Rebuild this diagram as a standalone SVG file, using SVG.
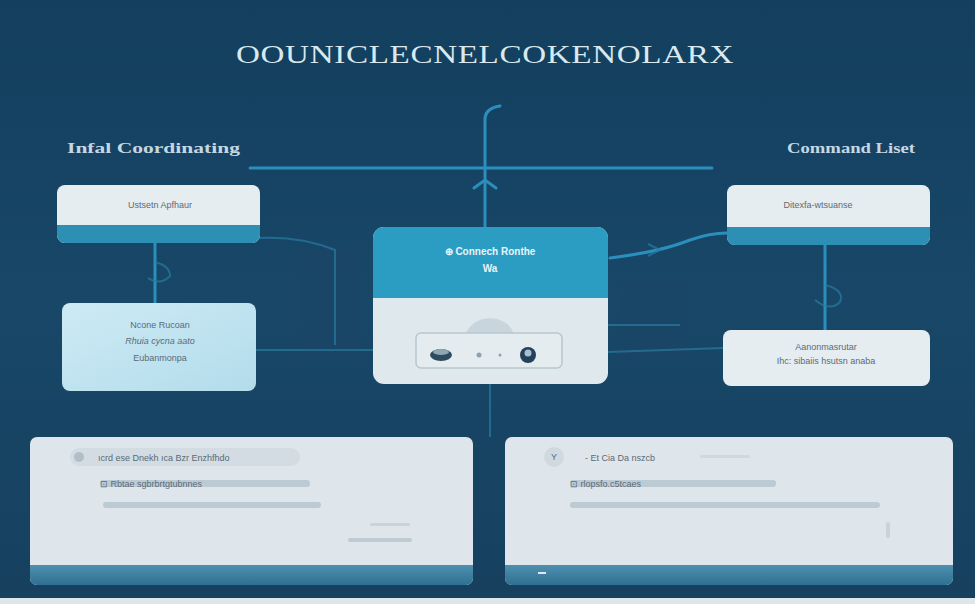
<svg xmlns="http://www.w3.org/2000/svg" width="975" height="604" viewBox="0 0 975 604">
<defs>
<linearGradient id="bg" x1="0" y1="0" x2="0" y2="1">
<stop offset="0" stop-color="#143f5f"/>
<stop offset="0.5" stop-color="#184767"/>
<stop offset="1" stop-color="#17405f"/>
</linearGradient>
<linearGradient id="band" x1="0" y1="0" x2="0" y2="1">
<stop offset="0" stop-color="#4f8fae"/>
<stop offset="1" stop-color="#2f7092"/>
</linearGradient>
<linearGradient id="lblue" x1="0" y1="0" x2="1" y2="1">
<stop offset="0" stop-color="#cdeaf5"/>
<stop offset="1" stop-color="#b3dceb"/>
</linearGradient>
<clipPath id="cl1"><rect x="57" y="185" width="203" height="58" rx="8"/></clipPath>
<clipPath id="cr1"><rect x="727" y="185" width="203" height="60" rx="8"/></clipPath>
<clipPath id="cc"><rect x="373" y="227" width="235" height="157" rx="11"/></clipPath>
<clipPath id="cbl"><rect x="30" y="437" width="443" height="148" rx="7"/></clipPath>
<clipPath id="cbr"><rect x="505" y="437" width="448" height="148" rx="7"/></clipPath>
</defs>
<style>
.ttl{font-family:"Liberation Serif",serif;font-size:25px;fill:#d9e9ef;letter-spacing:0.5px}
.hdr{font-family:"Liberation Serif",serif;font-size:14px;font-weight:bold;fill:#c4d8e3}
.sm{font-family:"Liberation Sans",sans-serif;font-size:9px;fill:#5a6b78}
.smw{font-family:"Liberation Sans",sans-serif;font-size:10px;font-weight:bold;fill:#e8f4f8}
.ln{fill:none;stroke:#2b8fbd;stroke-width:3;stroke-linecap:round}
.lnf{fill:none;stroke:#2a7aa3;stroke-width:2;opacity:0.7}
.bar{fill:#bccad4}
</style>
<rect width="975" height="604" fill="url(#bg)"/>
<rect x="0" y="598" width="975" height="6" fill="#dfe6ea"/>
<rect x="300" y="250" width="60" height="110" fill="#1a4566" opacity="0.6"/>
<rect x="618" y="280" width="70" height="80" fill="#1a4566" opacity="0.6"/>
<text class="ttl" x="485" y="63" text-anchor="middle" textLength="498" lengthAdjust="spacingAndGlyphs">OOUNICLECNELCOKENOLARX</text>
<text class="hdr" x="67" y="153" textLength="173" lengthAdjust="spacingAndGlyphs">Infal Coordinating</text>
<text class="hdr" x="787" y="153" textLength="128" lengthAdjust="spacingAndGlyphs">Command Liset</text>

<g id="connectors">
<path class="ln" d="M250 168 H712"/>
<path class="ln" d="M485 228 V118 Q486 108 500 106"/>
<path class="ln" d="M474 188 L485 180 L496 188"/>
<path class="ln" d="M155 243 V303"/>
<path class="lnf" d="M155 262 Q170 266 170 276 Q160 286 148 278"/>
<path class="ln" d="M825 245 V330"/>
<path class="lnf" d="M825 285 Q845 290 840 302 Q830 312 815 300"/>
<path class="lnf" d="M260 238 Q300 236 335 250 V345"/>
<path class="lnf" d="M256 350 H373"/>
<path class="ln" d="M610 258 Q660 252 690 240 Q710 233 727 233" stroke-width="2.5"/>
<path class="lnf" d="M648 244 L660 250 L648 256"/>
<path class="lnf" d="M608 325 H680"/>
<path class="lnf" d="M608 352 Q660 350 723 348"/>
<path class="lnf" d="M490 384 V437" opacity="0.4"/>
</g>

<g id="node-top-left" clip-path="url(#cl1)">
<rect x="57" y="185" width="203" height="58" fill="#e6edf1"/>
<rect x="57" y="225" width="203" height="18" fill="#2e8fb4"/>
<text class="sm" x="160" y="208" text-anchor="middle">Ustsetn Apfhaur</text>
</g>

<g id="node-top-right" clip-path="url(#cr1)">
<rect x="727" y="185" width="203" height="60" fill="#e6edf1"/>
<rect x="727" y="227" width="203" height="18" fill="#2e8fb4"/>
<text class="sm" x="818" y="208" text-anchor="middle">Ditexfa-wtsuanse</text>
</g>

<g id="node-center" clip-path="url(#cc)">
<rect x="373" y="227" width="235" height="157" fill="#dfe8ed"/>
<rect x="373" y="227" width="235" height="71" fill="#2b9dc3"/>
<text class="smw" x="490" y="255" text-anchor="middle">⊕ Connech Ronthe</text>
<text class="smw" x="490" y="272" text-anchor="middle">Wa</text>
<path d="M466 334 A25 22 0 0 1 514 334 Z" fill="#c9d5dc"/>
<rect x="416" y="333" width="146" height="35" rx="5" fill="#e4ecf0" stroke="#b8c6cf" stroke-width="1.5"/>
<ellipse cx="441" cy="355" rx="11" ry="6" fill="#2e4a5e"/>
<ellipse cx="441" cy="352" rx="8" ry="3" fill="#8fa6b4"/>
<circle cx="479" cy="355" r="2.5" fill="#8da2b0"/>
<circle cx="500" cy="355" r="1.5" fill="#8da2b0"/>
<circle cx="528" cy="355" r="8" fill="#24405a"/>
<circle cx="528" cy="353" r="3.5" fill="#a8bfcc"/>
</g>

<g id="node-mid-left">
<rect x="62" y="303" width="194" height="88" rx="8" fill="url(#lblue)"/>
<text class="sm" x="160" y="328" text-anchor="middle">Ncone Rucoan</text>
<text class="sm" x="160" y="344" text-anchor="middle" font-style="italic">Rhuia cycna aato</text>
<text class="sm" x="160" y="361" text-anchor="middle">Eubanmonpa</text>
</g>

<g id="node-mid-right">
<rect x="723" y="330" width="207" height="56" rx="8" fill="#e6edf1"/>
<text class="sm" x="826" y="350" text-anchor="middle" font-size="8">Aanonmasrutar</text>
<text class="sm" x="826" y="364" text-anchor="middle" font-size="8">Ihc: sibaiis hsutsn anaba</text>
</g>

<g id="node-bottom-left" clip-path="url(#cbl)">
<rect x="30" y="437" width="443" height="148" fill="#dfe6eb"/>
<rect x="30" y="565" width="443" height="20" fill="url(#band)"/>
<rect x="70" y="448" width="230" height="18" rx="9" fill="#d3dce2"/>
<circle cx="79" cy="457" r="5" fill="#b0bec8"/>
<text class="sm" x="98" y="461" fill="#4a5a66">ıcrd ese Dnekh ıca Bzr Enzhfhdo</text>
<rect x="100" y="480" width="210" height="7" rx="3" class="bar"/>
<text class="sm" x="100" y="487" fill="#4a5a66">⊡ Rbtae sgbrbrtgtubnnes</text>
<rect x="103" y="502" width="218" height="6" rx="3" class="bar"/>
<rect x="370" y="523" width="40" height="3" rx="1.5" fill="#c8d3da"/>
<rect x="348" y="538" width="64" height="4" rx="2" fill="#bfcbd3"/>
</g>

<g id="node-bottom-right" clip-path="url(#cbr)">
<rect x="505" y="437" width="448" height="148" fill="#dfe6eb"/>
<rect x="505" y="565" width="448" height="20" fill="url(#band)"/>
<circle cx="554" cy="457" r="10" fill="#d0d9df"/>
<text class="sm" x="551" y="460" fill="#6a7a86">Y</text>
<text class="sm" x="585" y="461" fill="#4a5a66">- Et Cia Da nszcb</text>
<rect x="700" y="455" width="50" height="3" rx="1.5" fill="#d0d9df"/>
<rect x="570" y="480" width="206" height="7" rx="3" class="bar"/>
<text class="sm" x="570" y="487" fill="#4a5a66">⊡ rlopsfo.c5tcaes</text>
<rect x="570" y="502" width="310" height="6" rx="3" class="bar"/>
<rect x="886" y="522" width="4" height="16" rx="2" fill="#c8d3da"/>
<rect x="538" y="572" width="8" height="2" fill="#dfe8ee"/>
</g>
</svg>
